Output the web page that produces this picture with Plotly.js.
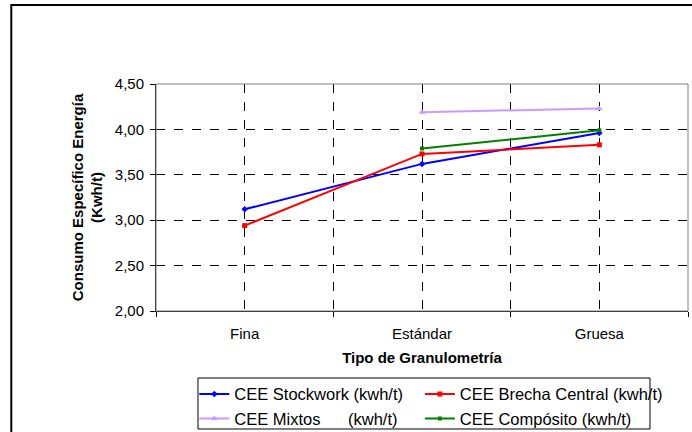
<!DOCTYPE html>
<html><head><meta charset="utf-8">
<script src="https://cdn.plot.ly/plotly-3.0.1.min.js"></script>
<style>html,body{margin:0;padding:0;background:#fff;}#chart{width:692px;height:432px;}</style>
</head><body><div id="chart"></div>
<script>
const categories = ["Fina", "Estándar", "Gruesa"];
const stockwork = [3.12, 3.62, 3.96];
const brecha = [2.94, 3.73, 3.83];
const mixtos = [null, 4.19, 4.23];
const composito = [null, 3.79, 3.99];
const seriesNames = ["CEE Stockwork (kwh/t)", "CEE Brecha Central (kwh/t)", "CEE Mixtos\u00a0\u00a0\u00a0\u00a0\u00a0 (kwh/t)", "CEE Compósito (kwh/t)"];

const xs = categories.map((c, i) => i);
function tr(y, name, color, sym, size, leg) {
  return {x: xs, y: y, name: name, type: 'scatter', mode: 'lines+markers',
    line: {color: color, width: 2}, marker: {color: color, symbol: sym, size: size},
    connectgaps: false, legend: leg, legendgroup: name};
}
const data = [
  tr(stockwork, seriesNames[0], '#0000FF', 'diamond', 5, 'legend'),
  tr(brecha, seriesNames[1], '#FF0000', 'square', 5, 'legend2'),
  tr(mixtos, seriesNames[2], '#CC99FF', 'triangle-up', 6, 'legend'),
  tr(composito, seriesNames[3], '#008000', 'square', 4, 'legend2')
];
const font = {family: 'Liberation Sans, Arial, sans-serif', size: 15, color: '#000'};
const legFont = {family: 'Liberation Sans, Arial, sans-serif', size: 16.5, color: '#000'};
const legCommon = {
  orientation: 'v', xanchor: 'left', y: -0.29, yanchor: 'top',
  borderwidth: 0, bgcolor: 'rgba(0,0,0,0)', font: legFont,
  itemwidth: 30, traceorder: 'grouped', tracegroupgap: 0
};
const layout = {
  width: 692, height: 432,
  margin: {l: 156, r: 4, t: 84, b: 121, autoexpand: false},
  paper_bgcolor: '#fff', plot_bgcolor: '#fff',
  separators: ', ',
  font: font,
  showlegend: true,
  xaxis: {
    range: [-0.5, 2.5], tickvals: xs, ticktext: categories,
    showgrid: true, gridcolor: '#000', griddash: 'dash', gridwidth: 1,
    ticks: '', showline: true, linecolor: '#000', linewidth: 1,
    zeroline: false, tickfont: font, ticklabelstandoff: 9,
    minor: {tick0: 0.5, dtick: 1, ticks: 'outside', ticklen: 5, tickcolor: '#000',
            showgrid: true, gridcolor: '#000', griddash: 'dash', gridwidth: 1},
    title: {text: '<b>Tipo de Granulometría</b>', font: font, standoff: 11}
  },
  yaxis: {
    range: [2, 4.5], dtick: 0.5, tick0: 2, tickformat: '.2f',
    showgrid: true, gridcolor: '#000', griddash: 'dash', gridwidth: 1,
    ticks: 'outside', ticklen: 5, tickcolor: '#000',
    showline: true, linecolor: '#000', linewidth: 1, zeroline: false,
    tickfont: font, ticklabelstandoff: 3,
    title: {text: '<b>Consumo Específico Energía<br>(Kwh/t)</b>', font: font, standoff: 8}
  },
  legend: Object.assign({x: 0.072}, legCommon),
  legend2: Object.assign({x: 0.496}, legCommon),
  shapes: [
    {type: 'rect', xref: 'paper', yref: 'paper', x0: 0, x1: 1, y0: 0, y1: 1,
     line: {color: '#808080', width: 1}, layer: 'above'},
    {type: 'rect', xref: 'paper', yref: 'paper', x0: 0.0789, x1: 0.9286, y0: -0.5198, y1: -0.2952,
     line: {color: '#000', width: 1}, layer: 'above'},
    {type: 'rect', xref: 'paper', yref: 'paper', x0: -0.272, x1: 1.2, y0: -1, y1: 1.348,
     line: {color: '#000', width: 2}, fillcolor: 'rgba(0,0,0,0)', layer: 'below'}
  ]
};
Plotly.newPlot('chart', data, layout, {displayModeBar: false, staticPlot: true});
</script></body></html>
